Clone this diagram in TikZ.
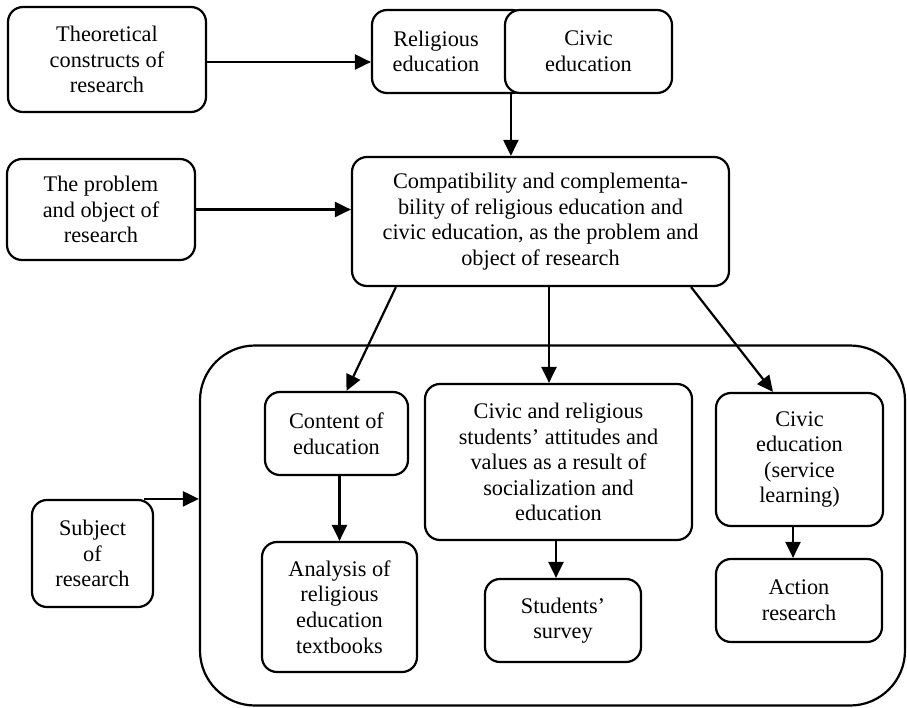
\documentclass[tikz,border=0pt]{standalone}
\usepackage{fontspec}
\setmainfont{Liberation Serif}
\usetikzlibrary{arrows.meta}
\begin{document}
\begin{tikzpicture}[x=1pt,y=-1pt,
  box/.style={draw,line width=2.2pt,rounded corners=15pt,fill=white,inner sep=0pt,align=center,
    font=\fontsize{22.3}{25.6}\selectfont},
  conn/.style={line width=2.2pt,-{Triangle[length=16pt,width=15pt]}},
  txt/.style={inner sep=0pt,align=center,font=\fontsize{22.3}{25.6}\selectfont}]
\useasboundingbox (0,0) rectangle (907,707);
% container
\node[draw,line width=2.2pt,rounded corners=55pt,minimum width=705pt,minimum height=360pt,inner sep=0pt] (cont) at (552.5,525.5) {};
% top row
\node[box,minimum width=198pt,minimum height=105pt] (theo) at (107,59.5) {Theoretical\\constructs of\\research};
\node[box,minimum width=155pt,minimum height=83pt] (rel) at (449.5,51.5) {};
\node[txt] (relt) at (436,51.5) {Religious\\education};
\node[box,minimum width=167pt,minimum height=83pt] (civ) at (588.5,51.5) {Civic\\education};
% middle row
\node[box,minimum width=188pt,minimum height=101pt] (prob) at (101,209.5) {The problem\\and object of\\research};
\node[box,minimum width=377pt,minimum height=129pt] (comp) at (540.5,221.5) {Compatibility and complementa-\\bility of religious education and\\civic education, as the problem and\\object of research};
% inner boxes
\node[box,minimum width=143pt,minimum height=83pt] (content) at (336.5,433.5) {Content of\\education};
\node[box,minimum width=267pt,minimum height=156pt] (mid) at (558.5,462) {Civic and religious\\students’ attitudes and\\values as a result of\\socialization and\\education};
\node[box,minimum width=167pt,minimum height=133pt] (civsl) at (799.5,459.5) {Civic\\education\\(service\\learning)};
\node[box,minimum width=155pt,minimum height=130pt] (analysis) at (339.5,607) {Analysis of\\religious\\education\\textbooks};
\node[box,minimum width=156pt,minimum height=83pt] (survey) at (563,620.5) {Students’\\survey};
\node[box,minimum width=166pt,minimum height=83pt] (action) at (799,600.5) {Action\\research};
\node[box,minimum width=121pt,minimum height=107pt] (subject) at (92.5,553.5) {Subject\\of\\research};
% connectors
\draw[conn] ([yshift=-2.5pt]theo.east) -- ([yshift=-2.5pt]theo.east -| rel.west);
\draw[conn] ([xshift=7pt]civ.south west) -- ([xshift=7pt]civ.south west |- comp.north);
\draw[conn] (prob.east) -- (prob.east -| comp.west);
\draw[conn] ([xshift=45pt]comp.south west) -- ([xshift=10pt]content.north);
\draw[conn] ([xshift=8.5pt]comp.south) -- ([xshift=8.5pt]comp.south |- mid.north);
\draw[conn] ([xshift=-39pt]comp.south east) -- ([xshift=-26.5pt]civsl.north);
\draw[conn] (analysis.north |- content.south) -- (analysis.north);
\draw[conn] ([xshift=-2.5pt]mid.south) -- ([xshift=-2.5pt]mid.south |- survey.north);
\draw[conn] ([xshift=-6.5pt]civsl.south) -- ([xshift=-6.5pt]civsl.south |- action.north);
\coordinate (subjstart) at ([xshift=-10pt]subject.north east);
\draw[conn] (subjstart) -- (subjstart -| cont.west);
\end{tikzpicture}
\end{document}
